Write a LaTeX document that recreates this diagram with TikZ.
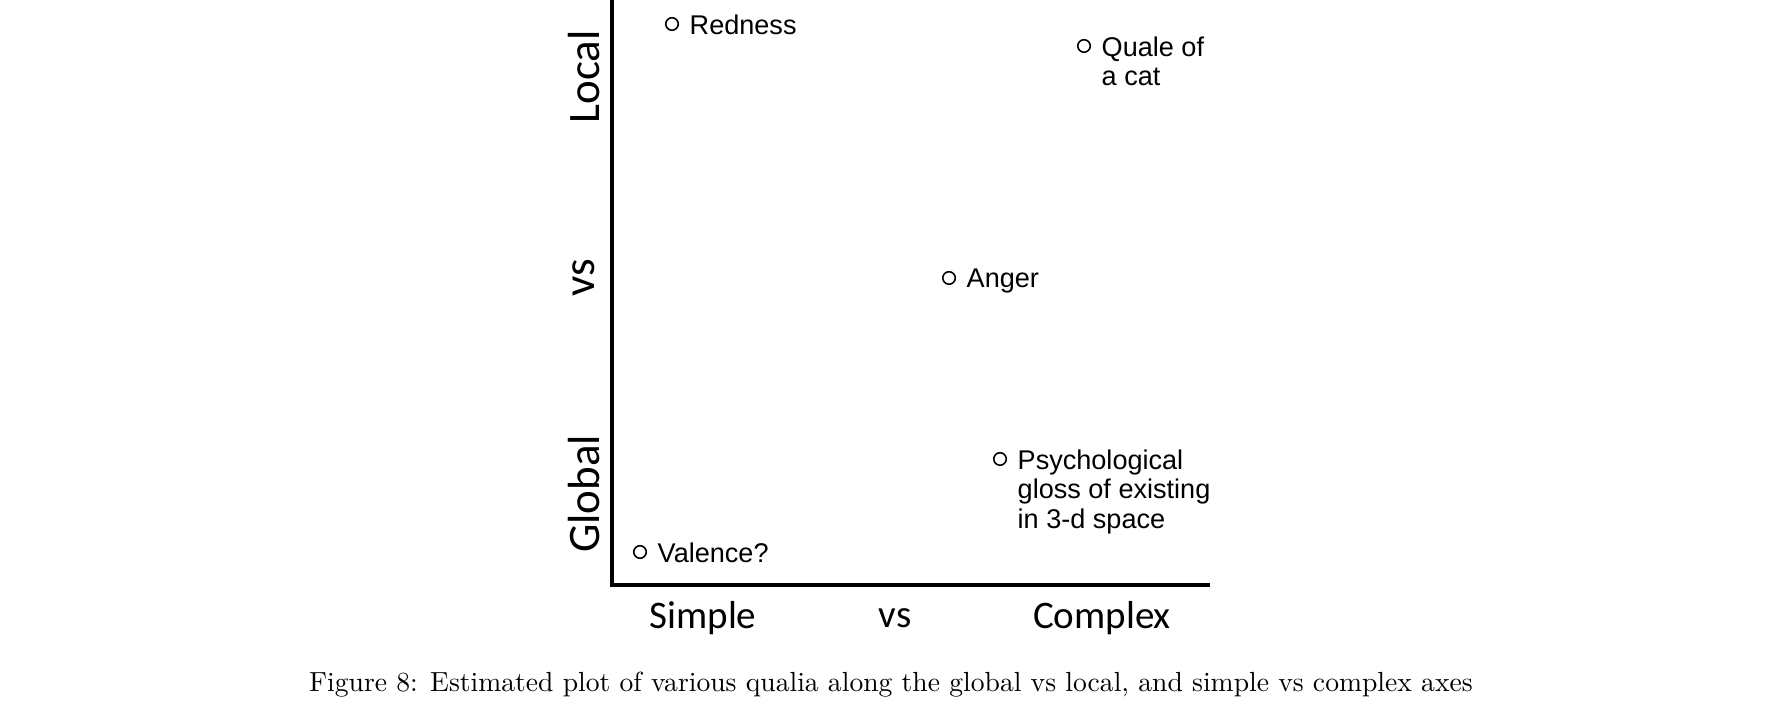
\documentclass[tikz,border=0pt]{standalone}
\usepackage{fontspec}
\usepackage{graphicx}
\newfontfamily\labelfont{Liberation Sans}
\newfontfamily\axisfont{Carlito}
\usetikzlibrary{calc,positioning}

\begin{document}
\begin{tikzpicture}[x=0.01cm, y=-0.01cm,
    axis/.style = {line width=1.1pt},
    pt/.style = {circle, draw, line width=0.45pt, minimum size=0.125cm, inner sep=0pt},
    lbl/.style = {anchor=north west, inner sep=0pt, align=left, font=\labelfont\fontsize{7.7}{8.4}\selectfont},
    axlbl/.style = {inner sep=0pt, font=\axisfont\fontsize{11.1}{13}\selectfont},
    vlbl/.style = {inner sep=0pt, rotate=90, font=\axisfont\fontsize{12.8}{14}\selectfont}]

    \useasboundingbox (0,0) rectangle (1778,704);

    % axes
    \coordinate (ytop) at (612,0);
    \coordinate (origin) at (612,585);
    \coordinate (xend) at (1210,585);
    \draw[axis] (ytop) -- (origin) -- (xend);

    % axis labels
    \node[vlbl] (local) at (584,77) {Local};
    \node[vlbl] (yvs) at (584,278) {vs};
    \node[vlbl] (global) at (584,494) {Global};
    \node[axlbl] (simple) at (703,618) {Simple};
    \node[axlbl] (xvs) at (895,618) {vs};
    \node[axlbl] (complex) at (1102,618) {Complex};

    % qualia
    \node[pt] (red) at (672,24) {};
    \node[lbl] (redtxt) at ($(red)+(17,-10)$) {Redness};
    \node[pt] (cat) at (1084,46) {};
    \node[lbl] (cattxt) at ($(cat)+(17,-10)$) {Quale of\\a cat};
    \node[pt] (anger) at (949,278) {};
    \node[lbl] (angertxt) at ($(anger)+(17,-10)$) {Anger};
    \node[pt] (gloss) at (1000,459) {};
    \node[lbl] (glosstxt) at ($(gloss)+(17,-10)$) {Psychological\\gloss of existing\\in 3-d space};
    \node[pt] (val) at (640,552) {};
    \node[lbl] (valtxt) at ($(val)+(17,-10)$) {Valence?};

    % caption
    \node[inner sep=0pt] (caption) at (891,685)
        {\resizebox{11.63cm}{!}{Figure 8: Estimated plot of various qualia along the global vs local, and simple vs complex axes}};

\end{tikzpicture}
\end{document}
